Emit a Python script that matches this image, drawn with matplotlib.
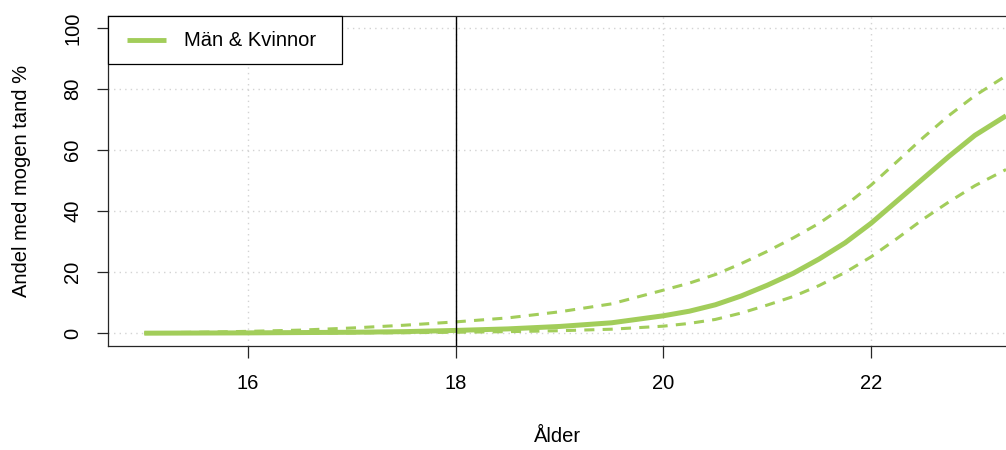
#!/usr/bin/env python3
"""Andel med mogen tand (%) vs Ålder, fitted curve with confidence band."""

import matplotlib

matplotlib.use("Agg")
import matplotlib.pyplot as plt  # noqa: E402
from matplotlib.lines import Line2D  # noqa: E402
from matplotlib.patches import Rectangle  # noqa: E402

ages = [15, 15.5, 16, 16.5, 17, 17.5, 18, 18.5, 19, 19.5, 20, 20.25, 20.5, 20.75,
        21, 21.25, 21.5, 21.75, 22, 22.25, 22.5, 22.75, 23, 23.3]
mean_pct = [0.0, 0.05, 0.1, 0.2, 0.3, 0.5, 0.9, 1.4, 2.2, 3.4, 5.7, 7.2, 9.3, 12.2,
            15.7, 19.6, 24.3, 29.6, 36.0, 43.3, 50.6, 57.9, 64.8, 71.2]
upper_pct = [0.1, 0.3, 0.6, 1.0, 1.7, 2.6, 3.7, 5.0, 7.0, 9.6, 14.1, 16.4, 19.2, 22.8,
             26.8, 31.2, 36.0, 41.8, 48.5, 56.2, 64.0, 71.3, 77.8, 84.3]
lower_pct = [0.0, 0.0, 0.0, 0.05, 0.1, 0.15, 0.3, 0.5, 0.8, 1.3, 2.3, 3.2, 4.5, 6.6,
             9.2, 12.0, 15.6, 19.9, 25.0, 31.0, 37.3, 43.0, 48.3, 53.6]

x_ticks = [16, 18, 20, 22]
y_ticks = [0, 20, 40, 60, 80, 100]
cutoff_age = 18
series_label = "Män & Kvinnor"
green = "#A2CD5A"
ink = "#262626"
fs = 14.5

plt.rcParams["font.family"] = ["Liberation Sans", "DejaVu Sans"]

W, H = 1006, 450
L, T, B = 108, 16, 346
fig = plt.figure(figsize=(W / 100, H / 100), dpi=100)
ax = fig.add_axes([L / W, 1 - B / H, 1 - L / W, (B - T) / H])

ax.set_xlim(14.65, 23.30)
ax.set_ylim(-4.2, 103.9)

# grid() style: dotted light gray at the ticks
for t in x_ticks:
    ax.axvline(t, color="lightgray", lw=1, ls=(0, (1, 3)), zorder=0)
for t in y_ticks:
    ax.axhline(t, color="lightgray", lw=1, ls=(0, (1, 3)), zorder=0)

ax.plot(ages, mean_pct, color=green, lw=3.6, solid_capstyle="butt")
ax.plot(ages, upper_pct, color=green, lw=2.2, ls=(0, (3.3, 2.7)))
ax.plot(ages, lower_pct, color=green, lw=2.2, ls=(0, (3.3, 2.7)))
ax.axvline(cutoff_age, color="black", lw=1)

ax.set_xticks(x_ticks)
ax.set_yticks(y_ticks)
ax.tick_params(axis="both", direction="out", width=0.9, labelsize=fs, color=ink)
ax.tick_params(axis="x", length=8.5, pad=12)
ax.tick_params(axis="y", length=8, pad=10.5)
for lab in ax.get_yticklabels():
    lab.set_rotation(90)
    lab.set_va("center")
for side in ["left", "top", "bottom"]:
    ax.spines[side].set_linewidth(0.9)
    ax.spines[side].set_color(ink)
ax.spines["right"].set_visible(False)

# legend box, R style: flush with the top-left corner of the plot
aw, ah = W - L, B - T
ax.add_patch(Rectangle((0, 1 - 48 / ah), 234 / aw, 48 / ah, transform=ax.transAxes,
                       facecolor="white", edgecolor="black", lw=0.9, clip_on=False, zorder=5))
ax.add_line(Line2D([19 / aw, 58 / aw], [1 - 24 / ah] * 2, transform=ax.transAxes,
                   color=green, lw=3.5, solid_capstyle="butt", zorder=6))
ax.text(76 / aw, 1 - 25 / ah, series_label, transform=ax.transAxes, ha="left", va="center",
        fontsize=fs, zorder=6)

fig.text(558 / W, 1 - 437 / H, "Ålder", ha="center", va="center", fontsize=fs)
fig.text(22 / W, 1 - 181 / H, "Andel med mogen tand %", ha="center", va="center",
         rotation=90, fontsize=fs)

fig.savefig("out.png", dpi=100)
